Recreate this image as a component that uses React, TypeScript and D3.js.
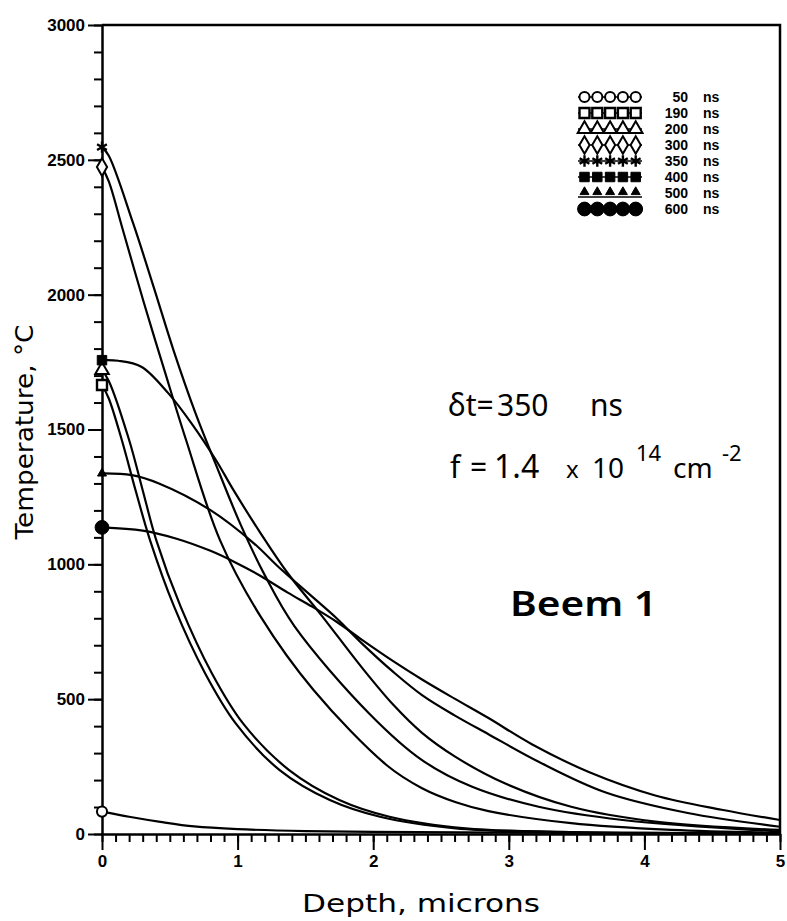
import React, { useEffect, useRef } from "react";
import * as d3 from "d3";

// depth (microns), temperature (C)
const t50ns = [[0, 83], [0.2, 64], [0.43, 45], [0.68, 28], [1.0, 18], [1.5, 11], [2, 8], [3, 5], [4, 3], [5, 2]];
const t190ns = [[0, 1665], [0.05, 1615], [0.146, 1461], [0.25, 1270], [0.354, 1090], [0.532, 843], [0.76, 596], [0.986, 410], [1.31, 237], [1.68, 126], [2.05, 64], [2.61, 21], [3.3, 8], [4, 4], [5, 2]];
const t200ns = [[0, 1720], [0.05, 1680], [0.2, 1461], [0.3, 1275], [0.4, 1090], [0.58, 843], [0.81, 596], [1.04, 410], [1.38, 237], [1.75, 126], [2.12, 64], [2.68, 21], [3.4, 8], [4, 4], [5, 2]];
const t300ns = [[0, 2473], [0.05, 2420], [0.154, 2240], [0.31, 1968], [0.46, 1720], [0.62, 1461], [0.87, 1090], [1.17, 806], [1.56, 534], [2.1, 255], [2.36, 170], [2.61, 118], [2.85, 85], [3.46, 40], [4.2, 15], [5, 4]];
const t350ns = [[0, 2547], [0.05, 2515], [0.23, 2264], [0.38, 2030], [0.53, 1790], [0.69, 1560], [0.84, 1370], [1.02, 1150], [1.2, 960], [1.42, 770], [1.97, 447], [2.36, 274], [2.73, 175], [3.22, 101], [3.84, 52], [5, 9]];
const t400ns = [[0, 1757], [0.12, 1755], [0.29, 1733], [0.49, 1634], [0.66, 1523], [0.84, 1387], [0.97, 1275], [1.17, 1115], [1.37, 967], [1.62, 810], [1.92, 615], [2.15, 478], [2.36, 375], [2.61, 285], [2.97, 188], [3.46, 101], [4.08, 46], [5, 15]];
const t500ns = [[0, 1337], [0.22, 1331], [0.42, 1300], [0.8, 1201], [1.12, 1078], [1.3, 991], [1.55, 880], [1.73, 800], [1.92, 705], [2.15, 600], [2.36, 515], [2.6, 440], [2.85, 370], [3.22, 268], [3.71, 155], [4.32, 78], [5, 27]];
const t600ns = [[0, 1137], [0.3, 1125], [0.55, 1095], [0.8, 1050], [0.98, 1008], [1.17, 957], [1.37, 895], [1.55, 843], [1.73, 787], [1.92, 719], [2.15, 640], [2.36, 573], [2.6, 502], [2.85, 430], [3.17, 333], [3.59, 230], [4.08, 143], [4.57, 90], [5, 52]];

const legendLabels = ["50", "190", "200", "300", "350", "400", "500", "600"];
const markKinds = ["circle", "square", "triangle", "diamond", "star", "fsquare", "ftri", "fcircle"];
const allSeries = [t50ns, t190ns, t200ns, t300ns, t350ns, t400ns, t500ns, t600ns];

const xMajor = [0, 1, 2, 3, 4, 5];
const yMajor = [0, 500, 1000, 1500, 2000, 2500, 3000];

export default function App() {
  const ref = useRef<SVGSVGElement>(null);

  useEffect(() => {
    const svg = d3.select(ref.current);
    svg.selectAll("*").remove();

    const left = 102, right = 780, top = 25, bottom = 834;
    const x = d3.scaleLinear().domain([0, 5]).range([left, right]);
    const y = d3.scaleLinear().domain([0, 3000]).range([bottom, top]);

    // FRAME (top + right)
    svg.append("path")
      .attr("d", `M${left},${top}H${right}V${bottom}`)
      .attr("fill", "none").attr("stroke", "#000").attr("stroke-width", 2.5);

    // MINOR TICKS
    svg.append("g").attr("transform", `translate(0,${bottom})`)
      .call(d3.axisBottom(x).tickValues(d3.range(0, 51).map((d) => d / 10)).tickSize(8).tickFormat(() => ""))
      .call((g) => g.select(".domain").remove());
    svg.append("g").attr("transform", `translate(${left},0)`)
      .call(d3.axisLeft(y).tickValues(d3.range(0, 3001, 100)).tickSize(8).tickFormat(() => ""))
      .call((g) => g.select(".domain").remove());

    // MAJOR TICKS + LABELS
    svg.append("g").attr("transform", `translate(0,${bottom})`)
      .call(d3.axisBottom(x).tickValues(xMajor).tickSize(16).tickSizeOuter(0).tickPadding(5).tickFormat(d3.format("d")));
    svg.append("g").attr("transform", `translate(${left},0)`)
      .call(d3.axisLeft(y).tickValues(yMajor).tickSize(14).tickSizeOuter(0).tickPadding(3).tickFormat(d3.format("d")));

    svg.selectAll(".tick line").attr("stroke", "#000").attr("stroke-width", 2);
    svg.selectAll(".domain").attr("stroke", "#000").attr("stroke-width", 2.5);
    svg.selectAll(".tick text")
      .attr("fill", "#000")
      .attr("font-family", "'Liberation Sans', Arial, sans-serif")
      .attr("font-weight", "bold")
      .attr("font-size", 17);

    // MARKERS
    const mark = (g: any, kind: string, cx: number, cy: number) => {
      const s = d3.symbol();
      const p = g.append("path").attr("transform", `translate(${cx},${cy})`).attr("stroke", "#000");
      if (kind === "circle") p.attr("d", s.type(d3.symbolCircle).size(80)()).attr("fill", "#fff").attr("stroke-width", 2);
      if (kind === "square") p.attr("d", s.type(d3.symbolSquare).size(100)()).attr("fill", "#fff").attr("stroke-width", 2.4);
      if (kind === "triangle") p.attr("d", s.type(d3.symbolTriangle).size(80)()).attr("fill", "#fff").attr("stroke-width", 2);
      if (kind === "diamond") p.attr("d", s.type(d3.symbolDiamond).size(90)()).attr("fill", "#fff").attr("stroke-width", 2);
      if (kind === "star") p.attr("d", s.type(d3.symbolAsterisk).size(90)()).attr("fill", "none").attr("stroke-width", 2.4);
      if (kind === "fsquare") p.attr("d", s.type(d3.symbolSquare).size(90)()).attr("fill", "#000").attr("stroke-width", 1);
      if (kind === "ftri") p.attr("d", s.type(d3.symbolTriangle).size(35)()).attr("fill", "#000").attr("stroke-width", 1);
      if (kind === "fcircle") p.attr("d", s.type(d3.symbolCircle).size(150)()).attr("fill", "#000").attr("stroke-width", 1);
    };

    // CURVES
    const line = d3.line<number[]>()
      .x((d) => x(d[0]))
      .y((d) => y(d[1]))
      .curve(d3.curveCatmullRom.alpha(0.5));

    const curves = svg.append("g");
    allSeries.forEach((pts) => {
      curves.append("path").datum(pts)
        .attr("fill", "none").attr("stroke", "#000").attr("stroke-width", 2.2)
        .attr("d", line as any);
    });
    allSeries.forEach((pts, i) => mark(curves, markKinds[i], x(pts[0][0]), y(pts[0][1])));

    // LEGEND
    const lg = svg.append("g");
    legendLabels.forEach((lab, i) => {
      const cy = 97 + i * 16;
      const lineY = markKinds[i] === "ftri" ? cy + 4 : cy;
      lg.append("line").attr("x1", 578).attr("x2", 642).attr("y1", lineY).attr("y2", lineY)
        .attr("stroke", "#000").attr("stroke-width", 1.6);
      for (let j = 0; j < 5; j++) {
        mark(lg, markKinds[i], 584.5 + j * 12.8, markKinds[i] === "ftri" ? cy - 1 : cy);
      }
      lg.append("text").attr("x", 688).attr("y", cy + 5).attr("text-anchor", "end")
        .attr("font-family", "'Liberation Sans', Arial, sans-serif").attr("font-weight", "bold")
        .attr("font-size", 14).text(lab);
      lg.append("text").attr("x", 703).attr("y", cy + 5)
        .attr("font-family", "'Liberation Sans', Arial, sans-serif").attr("font-weight", "bold")
        .attr("font-size", 14).text("ns");
    });

    // AXIS TITLES
    svg.append("text").attr("x", 421).attr("y", 912).attr("text-anchor", "middle")
      .attr("font-family", "'DejaVu Sans', sans-serif").attr("font-size", 24)
      .attr("textLength", 238).attr("lengthAdjust", "spacingAndGlyphs")
      .text("Depth,  microns");
    svg.append("text").attr("transform", "translate(33,432) rotate(-90)").attr("text-anchor", "middle")
      .attr("font-family", "'DejaVu Sans', sans-serif").attr("font-size", 24)
      .attr("textLength", 215).attr("lengthAdjust", "spacingAndGlyphs")
      .text("Temperature,  °C");

    // ANNOTATIONS
    const note = svg.append("g").attr("font-family", "'Noto Sans', sans-serif").attr("fill", "#000");
    const a1 = note.append("text").attr("y", 416).attr("font-size", 30);
    a1.append("tspan").attr("x", 448).text("δt=");
    a1.append("tspan").attr("x", 497).text("350");
    a1.append("tspan").attr("x", 590).text("ns");

    const a2 = note.append("text").attr("y", 478).attr("font-size", 30);
    a2.append("tspan").attr("x", 450).text("f");
    a2.append("tspan").attr("x", 470).text("=");
    a2.append("tspan").attr("x", 494).attr("font-size", 32).text("1.4");
    a2.append("tspan").attr("x", 566).attr("font-size", 24).text("x");
    a2.append("tspan").attr("x", 592).attr("font-size", 28).text("10");
    a2.append("tspan").attr("x", 636).attr("y", 461).attr("font-size", 22).text("14");
    a2.append("tspan").attr("x", 673).attr("y", 478).attr("font-size", 28).text("cm");
    a2.append("tspan").attr("x", 722).attr("y", 461).attr("font-size", 22).text("-2");

    note.append("text").attr("x", 510).attr("y", 616).attr("font-size", 34).attr("font-weight", 600)
      .attr("textLength", 147).attr("lengthAdjust", "spacingAndGlyphs").text("Beem 1");
  }, []);

  return (
    <svg
      ref={ref}
      width={787}
      height={921}
      style={{ position: "absolute", left: 0, top: 0, background: "#fff", display: "block" }}
    />
  );
}
